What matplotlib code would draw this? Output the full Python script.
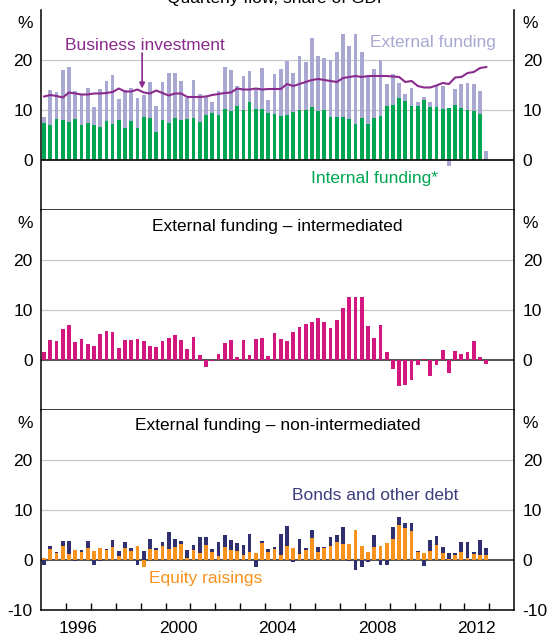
import numpy as np
import pandas as pd
import matplotlib
matplotlib.use("Agg")
import matplotlib.pyplot as plt

plt.rcParams['font.family'] = ['Liberation Sans', 'DejaVu Sans']

# ---------------- data (share of GDP, %) ----------------
quarters = pd.period_range('1995Q1', '2012Q4', freq='Q')

internal = [7.4, 7.0, 8.2, 8.0, 7.6, 8.2, 7.0, 7.4, 7.0, 6.6,
            7.8, 7.2, 8.0, 6.4, 7.8, 6.4, 8.6, 8.4, 5.6, 8.0,
            7.4, 8.4, 8.0, 8.2, 8.4, 7.7, 9.0, 9.4, 9.0, 10.2,
            9.8, 10.8, 10.0, 11.6, 10.2, 10.2, 9.4, 9.2, 8.8, 9.0,
            9.6, 10.0, 10.0, 10.6, 9.8, 10.0, 8.6, 8.6, 8.6, 8.2,
            7.2, 8.4, 7.2, 8.4, 8.8, 10.8, 11.0, 12.4, 11.9, 10.9,
            10.9, 12.1, 10.7, 10.7, 10.3, 10.5, 11.0, 10.4, 10.0, 9.8,
            9.2, 0.0]
external = [1.2, 7.0, 5.4, 10.0, 11.0, 5.6, 6.0, 7.0, 3.6, 7.6,
            8.0, 9.8, 4.2, 7.6, 6.6, 6.0, 4.4, 7.2, 5.2, 7.5,
            10.0, 9.0, 7.8, 4.3, 7.6, 5.5, 3.6, 2.2, 4.8, 8.4,
            8.2, 4.0, 6.8, 6.3, 4.0, 8.2, 2.6, 8.0, 9.4, 10.7,
            7.8, 10.8, 9.6, 13.8, 11.0, 10.3, 11.3, 13.0, 16.6, 14.6,
            18.0, 13.2, 9.4, 9.8, 11.2, 4.5, 6.2, 3.1, 1.4, 3.6,
            0.8, 0.6, 1.0, 4.2, 4.6, -1.1, 3.2, 4.8, 5.4, 5.4,
            4.6, 1.8]
business_investment = [12.7, 13.0, 12.8, 12.5, 13.5, 13.3, 13.1, 13.1, 13.3, 13.3,
                       13.4, 13.6, 14.3, 13.7, 13.7, 14.1, 13.5, 13.3, 13.9, 13.4,
                       12.9, 13.3, 13.3, 12.6, 12.6, 12.6, 12.7, 13.0, 13.2, 13.4,
                       13.5, 14.3, 14.1, 14.1, 14.3, 14.1, 14.2, 14.2, 14.2, 15.2,
                       14.8, 15.2, 15.6, 16.0, 16.2, 16.0, 15.8, 15.6, 16.4, 16.6,
                       16.8, 16.6, 16.8, 16.8, 16.8, 16.8, 16.7, 16.6, 15.6, 15.8,
                       14.8, 14.5, 14.5, 14.9, 15.4, 15.2, 16.5, 16.6, 17.4, 17.6,
                       18.4, 18.6]
intermediated = [1.6, 4.0, 3.8, 6.2, 7.0, 3.6, 4.2, 3.2, 2.8, 5.2,
                 5.8, 5.6, 2.4, 4.0, 4.0, 4.2, 3.8, 2.8, 2.6, 3.8,
                 4.4, 5.0, 4.0, 2.2, 4.6, 1.0, -1.4, -0.2, 1.2, 3.4,
                 4.0, 0.6, 4.0, 1.0, 4.2, 4.4, 0.8, 5.4, 4.2, 3.8,
                 5.6, 6.6, 7.2, 7.6, 8.4, 7.6, 6.4, 8.0, 10.4, 12.6,
                 12.6, 12.6, 6.8, 4.4, 7.0, 1.6, -1.7, -5.1, -4.9, -3.9,
                 -0.9, 0.2, -3.1, -0.9, 2.0, -2.5, 1.8, 1.2, 1.6, 3.8,
                 0.6, -0.7]
equity = [0.4, 2.2, 1.4, 2.8, 1.2, 2.0, 1.6, 2.4, 1.8, 2.4,
          2.0, 2.6, 0.8, 2.4, 1.8, 2.8, -1.3, 2.2, 2.0, 2.8,
          2.2, 2.6, 3.2, 0.4, 2.0, 1.4, 3.0, 1.6, 0.8, 2.6,
          2.0, 1.8, 1.0, 1.6, 1.4, 3.4, 1.6, 2.2, 1.0, 2.8,
          2.4, 1.2, 2.0, 4.4, 1.6, 2.4, 2.8, 3.6, 3.2, 3.2,
          6.0, 2.8, 1.6, 2.6, 2.8, 3.4, 4.2, 7.0, 6.4, 5.8,
          1.6, 1.4, 1.8, 3.0, 1.4, 0.2, 1.0, 1.6, 0.4, 1.2,
          1.0, 1.0]
bonds = [-0.9, 0.6, 0.2, 1.0, 2.6, -0.2, 0.4, 1.4, -1.0, -0.2,
         0.2, 1.4, 1.0, 1.2, 0.6, -0.9, 1.8, 2.0, 0.4, 0.8,
         3.4, 1.6, 0.6, 1.6, 1.0, 3.2, 1.6, 0.6, 2.8, 2.4,
         2.0, 1.6, 2.0, 3.6, -1.3, 0.4, 0.6, 0.4, 4.2, 4.0,
         -0.4, 3.0, 0.4, 1.6, 1.0, 0.2, 1.8, 1.4, 3.4, -0.2,
         -2.0, -1.4, -0.4, 2.4, -1.0, -1.0, 2.4, 1.6, 1.0, 1.6,
         0.2, -1.2, 2.2, 1.8, 1.2, 1.2, 0.4, 2.0, 3.2, 0.4,
         3.0, 1.4]

year_labels = ['1996', '2000', '2004', '2008', '2012']

# ---------------- styling ----------------
C_GREEN = '#00a651'
C_LAV = '#a9a8d2'
C_PURPLE = '#8a2a8c'
C_MAGENTA = '#d2177f'
C_NAVY = '#303070'
C_ORANGE = '#f7931e'
FS = 12.5

x = quarters.year + (quarters.quarter - 1) * 0.25 + 0.125
W = 0.15

fig = plt.figure(figsize=(5.48, 6.38), dpi=100)
H = 638.0
L = 41.0 / 548
R = 514.3 / 548


def make_ax(top_px, bot_px):
    ax = fig.add_axes([L, 1 - bot_px / H, R - L, (bot_px - top_px) / H])
    ax.set_xlim(1995.0, 2014.0)
    ax.set_ylim(-10, 30)
    for v in (10, 20):
        ax.axhline(v, color='#c8c8c8', lw=0.9, zorder=0)
    ax.spines['top'].set_visible(False)
    for s in ('left', 'right', 'bottom'):
        ax.spines[s].set_color('black')
        ax.spines[s].set_linewidth(1.1)
    ax.tick_params(axis='y', length=0, labelsize=FS, labelleft=True,
                   labelright=True, pad=6)
    ax.set_xticks([])
    return ax


def set_yticks(ax, with_neg):
    ticks = [0, 10, 20, 27.6]
    labels = ['0', '10', '20', '%']
    if with_neg:
        ticks = [-10] + ticks
        labels = ['-10'] + labels
    ax.set_yticks(ticks)
    ax.set_yticklabels(labels)


def stack(ax, first, second, c1, c2):
    a = np.asarray(first, float)
    b = np.asarray(second, float)
    ax.bar(x, np.where(a > 0, a, 0), W, color=c1, zorder=2, lw=0)
    ax.bar(x, np.where(a < 0, a, 0), W, color=c1, zorder=2, lw=0)
    pos_base = np.where(a > 0, a, 0)
    neg_base = np.where(a < 0, a, 0)
    ax.bar(x, np.where(b > 0, b, 0), W, bottom=pos_base, color=c2, zorder=2, lw=0)
    ax.bar(x, np.where(b < 0, b, 0), W, bottom=neg_base, color=c2, zorder=2, lw=0)


# ---- panel 1 ----
ax1 = make_ax(10, 210)
set_yticks(ax1, False)
stack(ax1, internal, external, C_GREEN, C_LAV)
ax1.axhline(0, color='black', lw=1.2, zorder=3)
ax1.plot(x, business_investment, color=C_PURPLE, lw=1.5, zorder=4)
ax1.text(1995.95, 22.9, 'Business investment', color=C_PURPLE, fontsize=FS,
         va='center', ha='left')
ax1.annotate('', xy=(1999.06, 14.3), xytext=(1999.06, 21.4),
             arrowprops=dict(arrowstyle='-|>', color=C_PURPLE, lw=1.2,
                             mutation_scale=8, shrinkA=0, shrinkB=0), zorder=5)
ax1.text(2010.75, 23.5, 'External funding', color=C_LAV, fontsize=FS,
         va='center', ha='center')
ax1.text(2008.4, -3.7, 'Internal funding*', color=C_GREEN, fontsize=FS,
         va='center', ha='center')

# ---- panel 2 ----
ax2 = make_ax(210, 410)
set_yticks(ax2, False)
ax2.axhline(0, color='#555555', lw=1.5, zorder=1)
ax2.bar(x, intermediated, W, color=C_MAGENTA, zorder=2, lw=0)
ax2.text(2004.5, 26.8, 'External funding \u2013 intermediated', fontsize=FS,
         ha='center', va='center')

# ---- panel 3 ----
ax3 = make_ax(410, 610)
set_yticks(ax3, True)
ax3.axhline(0, color='#555555', lw=1.5, zorder=1)
stack(ax3, equity, bonds, C_ORANGE, C_NAVY)
ax3.text(2004.5, 26.9, 'External funding \u2013 non-intermediated', fontsize=FS,
         ha='center', va='center')
ax3.text(2008.4, 13.0, 'Bonds and other debt', color='#3c3c7e', fontsize=FS,
         ha='center', va='center')
ax3.text(2001.6, -3.7, 'Equity raisings', color=C_ORANGE, fontsize=FS,
         ha='center', va='center')

ax3.set_xticks(np.arange(1996, 2014))
ax3.tick_params(axis='x', which='major', direction='in', length=5, width=1,
                color='black', labelbottom=False)
ax3.set_xticks([int(y) + 0.5 for y in year_labels], minor=True)
ax3.set_xticklabels(year_labels, minor=True)
ax3.tick_params(axis='x', which='minor', length=0, labelsize=FS, pad=8)

fig.text((L + R) / 2, 1 - 3.5 / H, 'Quarterly flow, share of GDP', fontsize=FS,
         ha='center', va='baseline')

fig.savefig('out.png', dpi=100)
